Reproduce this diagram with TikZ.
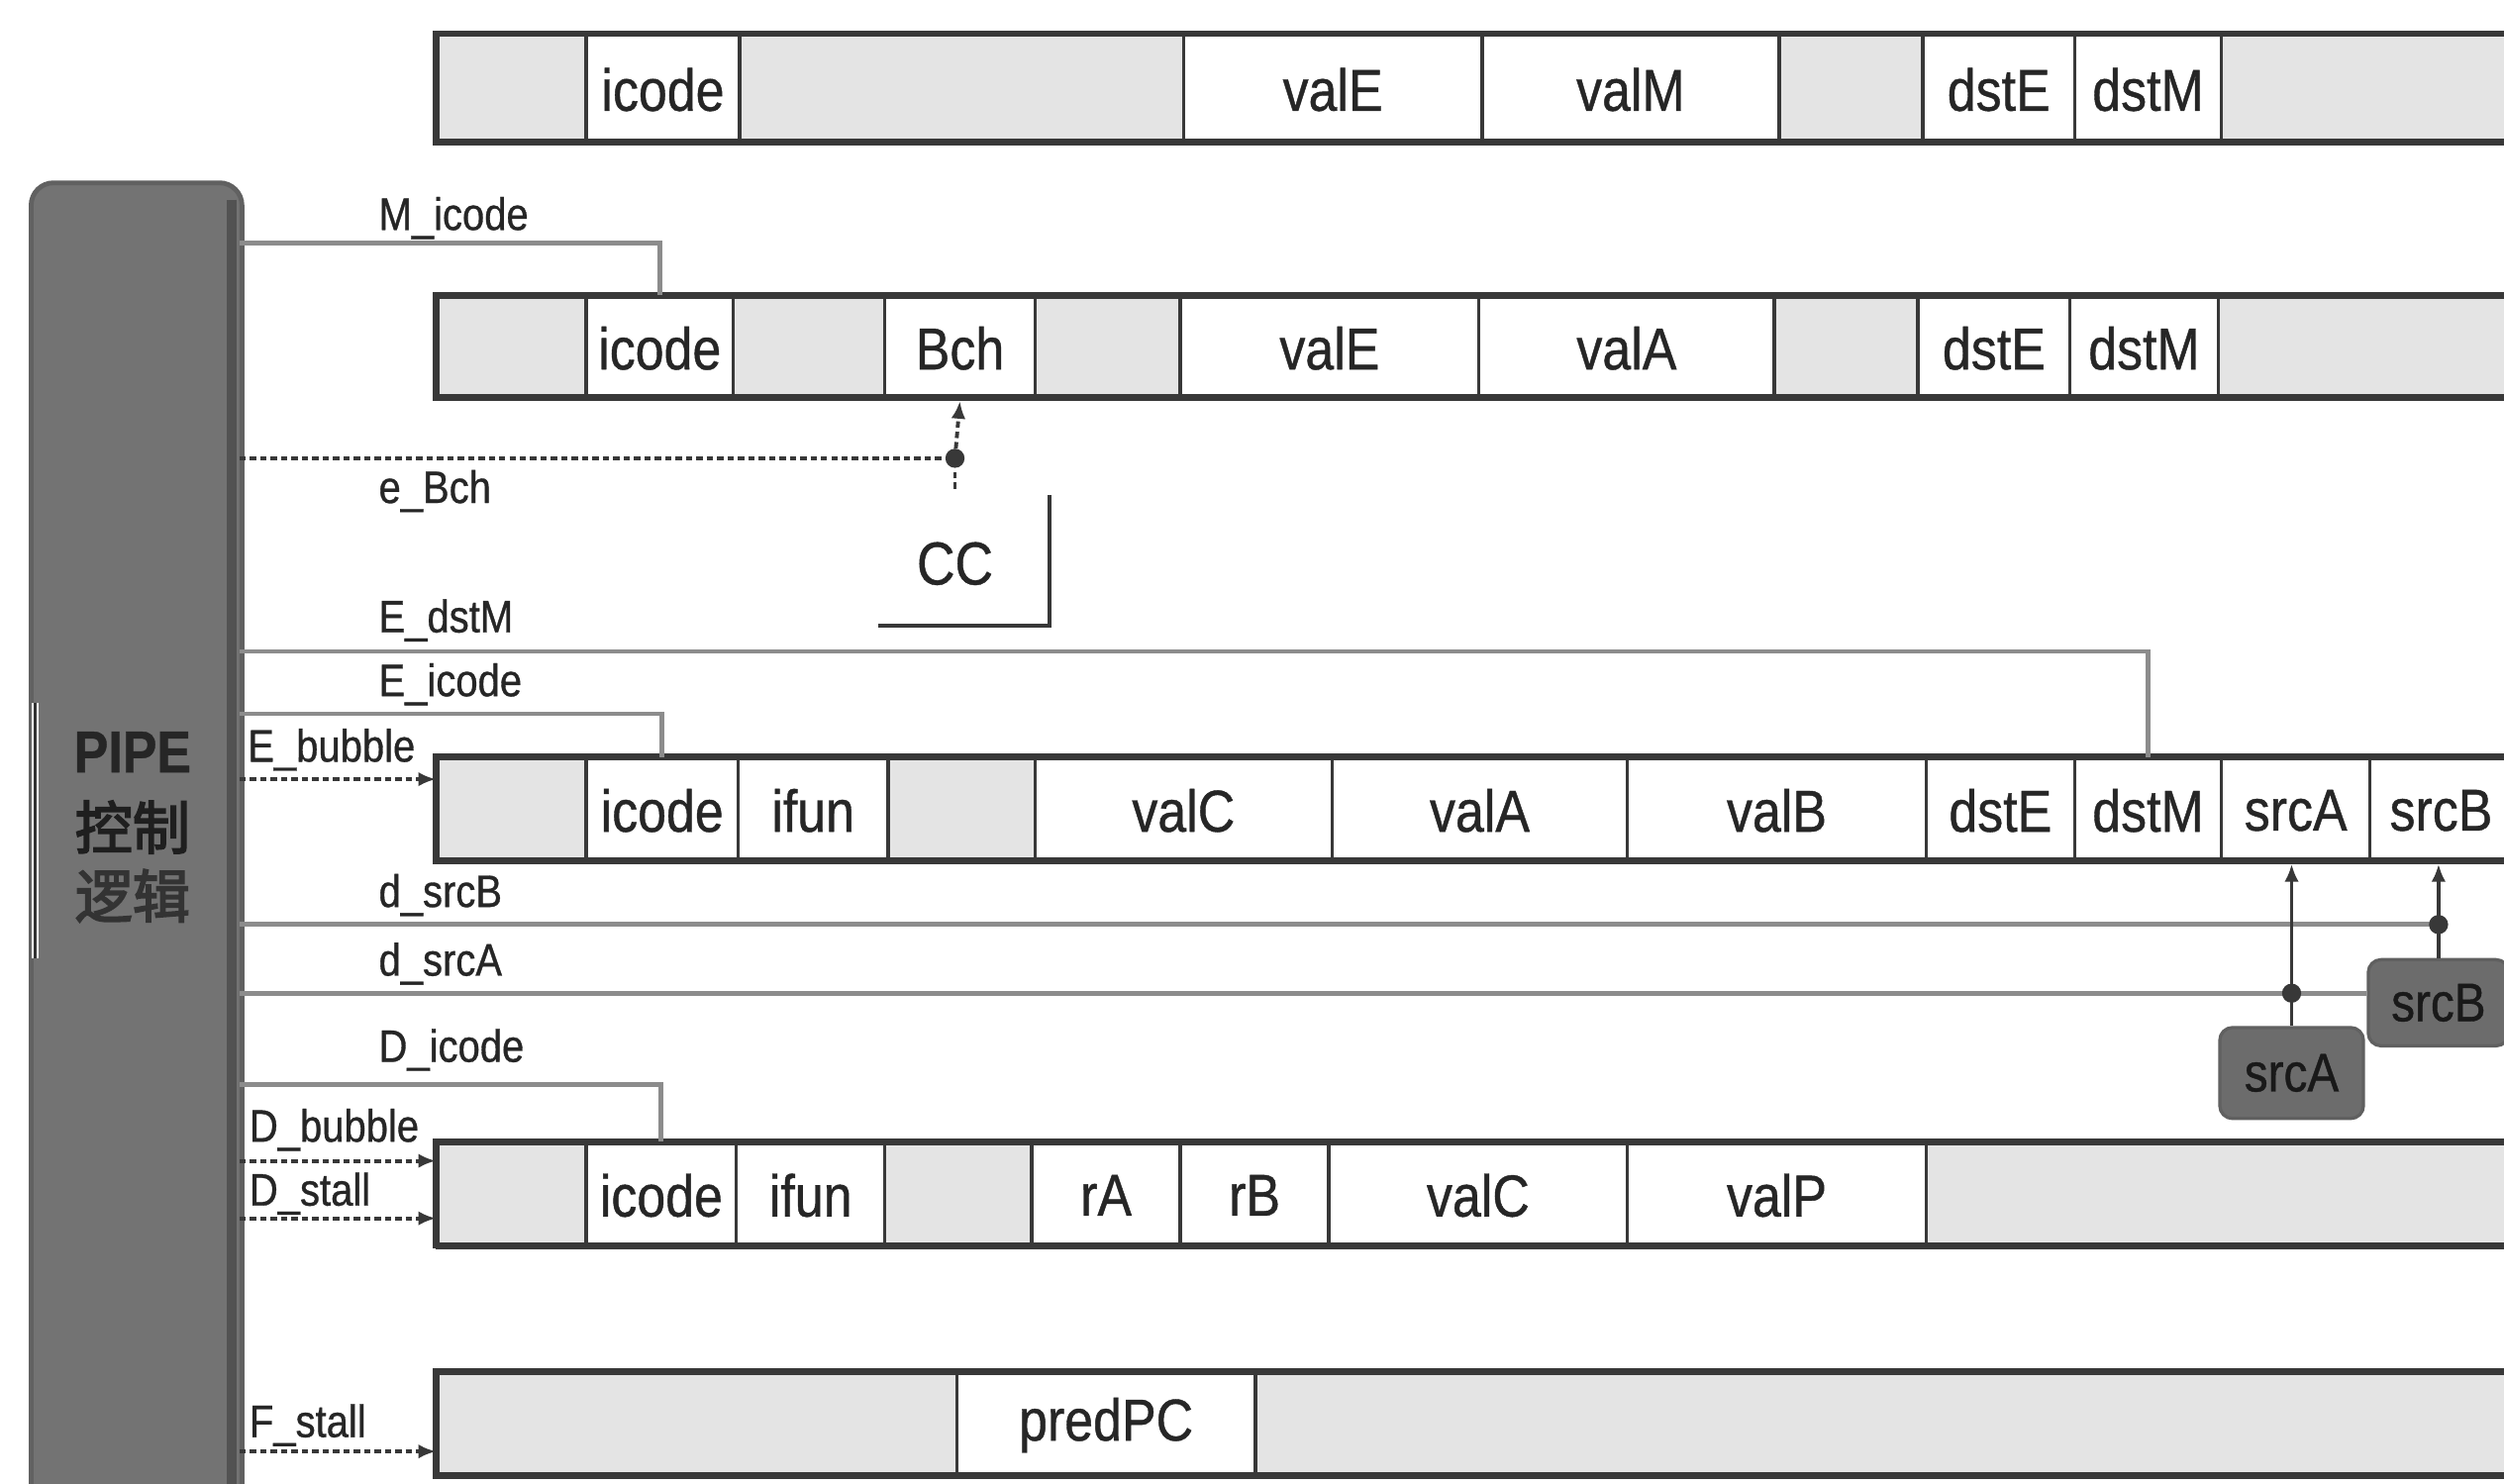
\documentclass[tikz,border=0pt]{standalone}
\usepackage{fontspec}
\setmainfont{Liberation Sans}[FakeStretch=0.87, FakeBold=0.7]
\newfontfamily\cjk{Noto Sans CJK SC}[FakeBold=3]
\usetikzlibrary{arrows.meta}
\definecolor{ln}{HTML}{383838}
\definecolor{txt}{HTML}{262626}
\definecolor{cellgray}{HTML}{E4E4E4}
\definecolor{sigln}{HTML}{8C8C8C}
\definecolor{pipefill}{HTML}{737373}
\definecolor{boxgray}{HTML}{6C6C6C}
\tikzset{
  regcell/.style={draw=ln, line width=2.2pt, anchor=north west, inner sep=0pt,
    font=\fontsize{37}{40}\selectfont, text=txt},
  outerln/.style={draw=ln, line width=4pt},
  lab/.style={anchor=base west, inner sep=0pt, font=\fontsize{28.5}{30}\selectfont, text=txt},
  sig/.style={draw=sigln, line width=3pt},
  dotsig/.style={draw=ln, line width=2.4pt, dash pattern=on 4pt off 2.5pt},
  tip/.style={-{Latex[length=11pt,width=9pt]}},
  srcbox/.style={draw=ln!80, line width=2pt, fill=boxgray, rounded corners=8pt,
    inner sep=0pt, font=\fontsize{34}{36}\selectfont, text=black!90},
  junc/.style={circle, fill=ln, inner sep=0pt, minimum size=12pt},
}
\newcommand\rc[7]{%
  \pgfmathsetmacro\cw{#3-#2}\pgfmathsetmacro\ch{#5-#4}%
  \node[regcell, fill=#6, minimum width=\cw pt, minimum height=\ch pt] (#1) at (#2,#4) {#7};}
\newcommand\regframe[2]{\draw[outerln] (1590,#1) -- (273,#1) -- (273,#2) -- (1590,#2);}
\begin{document}
\begin{tikzpicture}[x=1pt,y=-1pt]
\useasboundingbox (0,0) rectangle (1568,929);
\clip (0,0) rectangle (1568,929);
\fill[white] (0,0) rectangle (1568,929);

% ---------- W register ----------
\rc{Wg1}{273}{366}{21}{89}{cellgray}{}
\rc{Wicode}{366}{462}{21}{89}{white}{icode}
\rc{Wg2}{462}{740}{21}{89}{cellgray}{}
\rc{WvalE}{740}{927}{21}{89}{white}{valE}
\rc{WvalM}{927}{1113}{21}{89}{white}{valM}
\rc{Wg3}{1113}{1203}{21}{89}{cellgray}{}
\rc{WdstE}{1203}{1298}{21}{89}{white}{dstE}
\rc{WdstM}{1298}{1390}{21}{89}{white}{dstM}
\rc{Wg4}{1390}{1590}{21}{89}{cellgray}{}
\regframe{21}{89}

% ---------- M register ----------
\rc{Mg1}{273}{366}{185}{249}{cellgray}{}
\rc{Micode}{366}{458}{185}{249}{white}{icode}
\rc{Mg2}{458}{553}{185}{249}{cellgray}{}
\rc{Mbch}{553}{647}{185}{249}{white}{Bch}
\rc{Mg3}{647}{738}{185}{249}{cellgray}{}
\rc{MvalE}{738}{925}{185}{249}{white}{valE}
\rc{MvalA}{925}{1110}{185}{249}{white}{valA}
\rc{Mg4}{1110}{1200}{185}{249}{cellgray}{}
\rc{MdstE}{1200}{1295}{185}{249}{white}{dstE}
\rc{MdstM}{1295}{1388}{185}{249}{white}{dstM}
\rc{Mg5}{1388}{1590}{185}{249}{cellgray}{}
\regframe{185}{249}

% ---------- E register ----------
\rc{Eg1}{273}{366}{474}{539}{cellgray}{}
\rc{Eicode}{366}{461}{474}{539}{white}{icode}
\rc{Eifun}{461}{555}{474}{539}{white}{ifun}
\rc{Eg2}{555}{647}{474}{539}{cellgray}{}
\rc{EvalC}{647}{833}{474}{539}{white}{valC}
\rc{EvalA}{833}{1018}{474}{539}{white}{valA}
\rc{EvalB}{1018}{1205}{474}{539}{white}{valB}
\rc{EdstE}{1205}{1298}{474}{539}{white}{dstE}
\rc{EdstM}{1298}{1390}{474}{539}{white}{dstM}
\rc{EsrcA}{1390}{1483}{474}{539}{white}{srcA}
\rc{EsrcB}{1483}{1572}{474}{539}{white}{srcB}
\regframe{474}{539}

% ---------- D register ----------
\rc{Dg1}{273}{366}{715}{780}{cellgray}{}
\rc{Dicode}{366}{460}{715}{780}{white}{icode}
\rc{Difun}{460}{553}{715}{780}{white}{ifun}
\rc{Dg2}{553}{645}{715}{780}{cellgray}{}
\rc{DrA}{645}{738}{715}{780}{white}{rA}
\rc{DrB}{738}{831}{715}{780}{white}{rB}
\rc{DvalC}{831}{1018}{715}{780}{white}{valC}
\rc{DvalP}{1018}{1205}{715}{780}{white}{valP}
\rc{Dg3}{1205}{1590}{715}{780}{cellgray}{}
\regframe{715}{780}

% ---------- F register ----------
\rc{Fg1}{273}{598}{859}{924}{cellgray}{}
\rc{FpredPC}{598}{785}{859}{924}{white}{predPC}
\rc{Fg2}{785}{1590}{859}{924}{cellgray}{}
\regframe{859}{924}

% ---------- PIPE control logic ----------
\node[draw=black!62, line width=3pt, fill=pipefill, rounded corners=14pt, anchor=north west,
      minimum width=132pt, minimum height=900pt, inner sep=0pt] (pipe) at (18,113) {};
\coordinate (band1) at (145,125);
\coordinate (band2) at (145,940);
\draw[draw=black!68, line width=6pt] (band1) -- (band2);
\coordinate (brk1) at (22,440);
\coordinate (brk2) at (22,600);
\draw[draw=white, line width=4pt] (brk1) -- (brk2);
\draw[draw=black!80, line width=2pt] (brk1) -- (brk2);
\node[font=\bfseries\fontsize{37}{40}\selectfont, text=black!85] (pipeA) at (83,471) {PIPE};
\node[font=\cjk\fontsize{36}{40}\selectfont, text=black!88] (pipeB) at (83,518) {控制};
\node[font=\cjk\fontsize{36}{40}\selectfont, text=black!80] (pipeC) at (83,561) {逻辑};

% ---------- CC ----------
\node[font=\fontsize{38}{40}\selectfont, text=txt] (cc) at (598,353) {CC};
\coordinate (cc1) at (657,310);
\coordinate (cc2) at (657,392);
\coordinate (cc3) at (550,392);
\draw[draw=ln, line width=2.6pt] (cc1) -- (cc2) -- (cc3);

% ---------- source coordinates on PIPE box ----------
\coordinate (pMi) at (150,152);
\coordinate (pBc) at (150,287);
\coordinate (pEd) at (150,408);
\coordinate (pEi) at (150,447);
\coordinate (pEb) at (150,488);
\coordinate (pSB) at (150,579);
\coordinate (pSA) at (150,622);
\coordinate (pDi) at (150,679);
\coordinate (pDb) at (150,727);
\coordinate (pDs) at (150,763);
\coordinate (pFs) at (150,909);

% ---------- labels ----------
\node[lab] (lMi) at (237,144) {M\_icode};
\node[lab] (lBc) at (237,315) {e\_Bch};
\node[lab] (lEd) at (237,396) {E\_dstM};
\node[lab] (lEi) at (237,436) {E\_icode};
\node[lab] (lEb) at (155,477) {E\_bubble};
\node[lab] (lSB) at (237,568) {d\_srcB};
\node[lab] (lSA) at (237,611) {d\_srcA};
\node[lab] (lDi) at (237,665) {D\_icode};
\node[lab] (lDb) at (156,715) {D\_bubble};
\node[lab] (lDs) at (156,755) {D\_stall};
\node[lab] (lFs) at (156,900) {F\_stall};

% ---------- solid signal lines ----------
\draw[sig] (pMi) -| (Micode.north);
\draw[sig] (pEd) -| (EdstM.north);
\draw[sig] (pEi) -| (Eicode.north);
\draw[sig] (pDi) -| (Dicode.north);

% ---------- e_Bch ----------
\node[junc] (bdot) at (598,287) {};
\coordinate (bfrom) at (598,306);
\draw[dotsig] (pBc) -- (bdot);
\draw[dotsig] (bfrom) -- (bdot);
\draw[dotsig, tip] (bdot) -- (Mbch.south);

% ---------- bubble / stall ----------
\draw[dotsig, tip] (pEb) -- (pEb -| Eg1.west);
\draw[dotsig, tip] (pDb) -- (pDb -| Dg1.west);
\draw[dotsig, tip] (pDs) -- (pDs -| Dg1.west);
\draw[dotsig, tip] (pFs) -- (pFs -| Fg1.west);

% ---------- srcA / srcB ----------
\node[srcbox, minimum width=90pt, minimum height=57pt] (sAbox) at (1435,672) {srcA};
\node[srcbox, minimum width=88pt, minimum height=54pt] (sBbox) at (1527,628) {srcB};
\draw[sig] (pSB) -- (pSB -| sBbox.north);
\draw[sig] (pSA) -- (pSA -| sBbox.west);
\draw[draw=ln, line width=2pt, tip] (sBbox.north) -- (sBbox.north |- EsrcB.south);
\draw[draw=ln, line width=2pt, tip] (sAbox.north) -- (sAbox.north |- EsrcA.south);
\node[junc] (sbdot) at (pSB -| sBbox.north) {};
\node[junc] (sadot) at (pSA -| sAbox.north) {};
\end{tikzpicture}
\end{document}
